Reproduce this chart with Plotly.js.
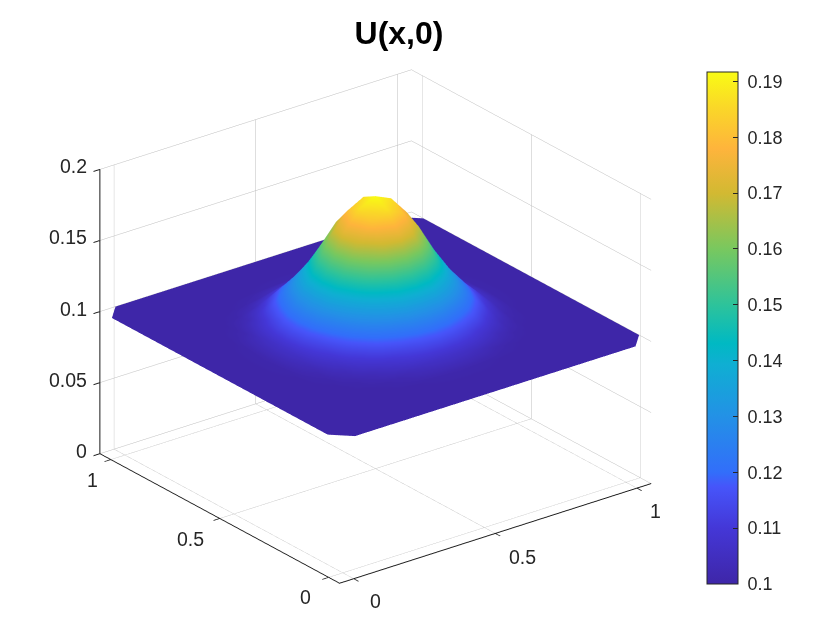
<!DOCTYPE html>
<html><head><meta charset="utf-8">
<script src="https://cdn.plot.ly/plotly-3.0.1.min.js"></script>
<style>html,body{margin:0;padding:0;background:#fff}#p{width:840px;height:630px}</style>
</head><body><div id="p"></div>
<script>
const xVals=[-0.05,0.005,0.06,0.115,0.17,0.225,0.28,0.335,0.39,0.445,0.5,0.555,0.61,0.665,0.72,0.775,0.83,0.885,0.94,0.995,1.05];
const yVals=[-0.05,0.005,0.06,0.115,0.17,0.225,0.28,0.335,0.39,0.445,0.5,0.555,0.61,0.665,0.72,0.775,0.83,0.885,0.94,0.995,1.05];
const B=0.1;
const zRows=[
[B,B,B,B,B,B,B,B,B,B,B,B,B,B,B,B,B,B,B,B,B],
[B,B,B,B,B,B,B,B,B,B,B,B,B,B,B,B,B,B,B,B,B],
[B,B,B,B,B,B,B,B,B,B,B,B,B,B,B,B,B,B,B,B,B],
[B,B,B,B,B,B,B,.1001,.1005,.101,.1012,.101,.1005,.1001,B,B,B,B,B,B,B],
[B,B,B,B,B,B,.1006,.102,.1045,.1063,.107,.1063,.1045,.102,.1006,B,B,B,B,B,B],
[B,B,B,B,B,.101,.1038,.1085,.1135,.1175,.119,.1175,.1135,.1085,.1038,.101,B,B,B,B,B],
[B,B,B,B,.1006,.1038,.1105,.119,.1255,.131,.1325,.131,.1255,.119,.1105,.1038,.1006,B,B,B,B],
[B,B,B,.1001,.102,.1085,.119,.129,.139,.148,.151,.148,.139,.129,.119,.1085,.102,.1001,B,B,B],
[B,B,B,.1005,.1045,.1135,.1255,.139,.155,.168,.1735,.168,.155,.139,.1255,.1135,.1045,.1005,B,B,B],
[B,B,B,.101,.1063,.1175,.131,.148,.168,.1808,.1867,.1808,.168,.148,.131,.1175,.1063,.101,B,B,B],
[B,B,B,.1012,.107,.119,.1325,.151,.1735,.1867,.1917,.1867,.1735,.151,.1325,.119,.107,.1012,B,B,B],
[B,B,B,.101,.1063,.1175,.131,.148,.168,.1808,.1867,.1808,.168,.148,.131,.1175,.1063,.101,B,B,B],
[B,B,B,.1005,.1045,.1135,.1255,.139,.155,.168,.1735,.168,.155,.139,.1255,.1135,.1045,.1005,B,B,B],
[B,B,B,.1001,.102,.1085,.119,.129,.139,.148,.151,.148,.139,.129,.119,.1085,.102,.1001,B,B,B],
[B,B,B,B,.1006,.1038,.1105,.119,.1255,.131,.1325,.131,.1255,.119,.1105,.1038,.1006,B,B,B,B],
[B,B,B,B,B,.101,.1038,.1085,.1135,.1175,.119,.1175,.1135,.1085,.1038,.101,B,B,B,B,B],
[B,B,B,B,B,B,.1006,.102,.1045,.1063,.107,.1063,.1045,.102,.1006,B,B,B,B,B,B],
[B,B,B,B,B,B,B,.1001,.1005,.101,.1012,.101,.1005,.1001,B,B,B,B,B,B,B],
[B,B,B,B,B,B,B,B,B,B,B,B,B,B,B,B,B,B,B,B,B],
[B,B,B,B,B,B,B,B,B,B,B,B,B,B,B,B,B,B,B,B,B],
[B,B,B,B,B,B,B,B,B,B,B,B,B,B,B,B,B,B,B,B,B]
];
const tickVals=[0,0.5,1];
const tickText=['0','0.5','1'];
const zTickVals=[0,0.05,0.1,0.15,0.2];
const zTickText=['0','0.05','0.1','0.15','0.2'];
const cbTickVals=[0.1,0.11,0.12,0.13,0.14,0.15,0.16,0.17,0.18,0.19];
const cbTickText=['\u00a00.1','\u00a00.11','\u00a00.12','\u00a00.13','\u00a00.14','\u00a00.15','\u00a00.16','\u00a00.17','\u00a00.18','\u00a00.19'];
const parula=[[0,'rgb(62,38,168)'],[0.109,'rgb(68,55,215)'],[0.19,'rgb(70,85,250)'],[0.218,'rgb(50,110,250)'],[0.327,'rgb(35,145,230)'],[0.43,'rgb(15,175,210)'],[0.47,'rgb(0,185,195)'],[0.545,'rgb(45,195,155)'],[0.654,'rgb(120,200,95)'],[0.763,'rgb(210,185,50)'],[0.85,'rgb(254,180,60)'],[0.93,'rgb(250,215,40)'],[1,'rgb(249,251,21)']];

const n=xVals.length;
const xG=yVals.map(()=>xVals.slice()), yG=yVals.map(v=>xVals.map(()=>v));
const h=(xVals[1]-xVals[0])/2;
[[0,0,1,1],[0,n-1,1,-1],[n-1,0,-1,1],[n-1,n-1,-1,-1]].forEach(([r,c,sy,sx])=>{xG[r][c]+=sx*h;yG[r][c]+=sy*h;});

const tickFont={family:'Liberation Sans',size:19.5,color:'#262626'};
const xMin=xVals[0], yMax=yVals[n-1];
const xShift=[[22,-22],[27,-24],[19,-23]], yShift=[[-23,-20],[-29,-21],[-18,-20]];
const tickNotes=[
 ...tickVals.map((v,i)=>({x:v,y:xMin,z:0,text:tickText[i],showarrow:false,xanchor:'center',yanchor:'middle',xshift:xShift[i][0],yshift:xShift[i][1],font:tickFont})),
 ...tickVals.map((v,i)=>({x:xMin,y:v,z:0,text:tickText[i],showarrow:false,xanchor:'center',yanchor:'middle',xshift:yShift[i][0],yshift:yShift[i][1],font:tickFont})),
 ...zTickVals.map((v,i)=>({x:xMin,y:yMax,z:v,text:zTickText[i],showarrow:false,xanchor:'right',yanchor:'middle',xshift:-11,yshift:3,font:tickFont}))
];

const ax={range:[-0.05,1.05],tickvals:tickVals,ticktext:tickText,tickmode:'array',tickangle:0,showticklabels:false,showbackground:false,
 gridcolor:'#bdbdbd',gridwidth:1,showline:true,linecolor:'#1a1a1a',linewidth:2,zeroline:false,showspikes:false,
 ticks:'outside',ticklen:8,tickwidth:2,tickcolor:'#1a1a1a',title:{text:''}};
const layout={width:840,height:630,margin:{l:0,r:0,t:0,b:0},paper_bgcolor:'#fff',
 title:{text:'<b>U(x,0)</b>',font:{family:'Liberation Sans',size:32,color:'#000'},x:399/840,xanchor:'center',y:1-33/630,yanchor:'middle'},
 scene:{domain:{x:[0,751/840],y:[0,607/630]},
  aspectmode:'manual',aspectratio:{x:1.295,y:1.295,z:1.03},
  camera:{projection:{type:'orthographic'},up:{x:0,y:0,z:1},center:{x:0,y:0,z:0},eye:{x:-1.2,y:-1.56,z:0.9}},
  annotations:tickNotes,
  xaxis:Object.assign({},ax),yaxis:Object.assign({},ax),
  zaxis:Object.assign({},ax,{range:[0,0.2],tickvals:zTickVals,ticktext:zTickText})}};
const trace={type:'surface',x:xG,y:yG,z:zRows,cmin:0.1,cmax:0.1917,colorscale:parula,
 lighting:{ambient:1,diffuse:0,specular:0,roughness:1,fresnel:0},
 contours:{x:{highlight:false},y:{highlight:false},z:{highlight:false}},hoverinfo:'skip',
 colorbar:{x:707/840,xanchor:'left',y:46/630,yanchor:'bottom',lenmode:'pixels',len:512,thicknessmode:'pixels',thickness:31,
  outlinecolor:'#262626',outlinewidth:1,ticks:'inside',ticklen:5,tickcolor:'#262626',tickmode:'array',tickvals:cbTickVals,ticktext:cbTickText,
  tickfont:{family:'Liberation Sans',size:18,color:'#262626'},xpad:0,ypad:0}};
Plotly.newPlot('p',[trace],layout,{displayModeBar:false});
</script></body></html>
